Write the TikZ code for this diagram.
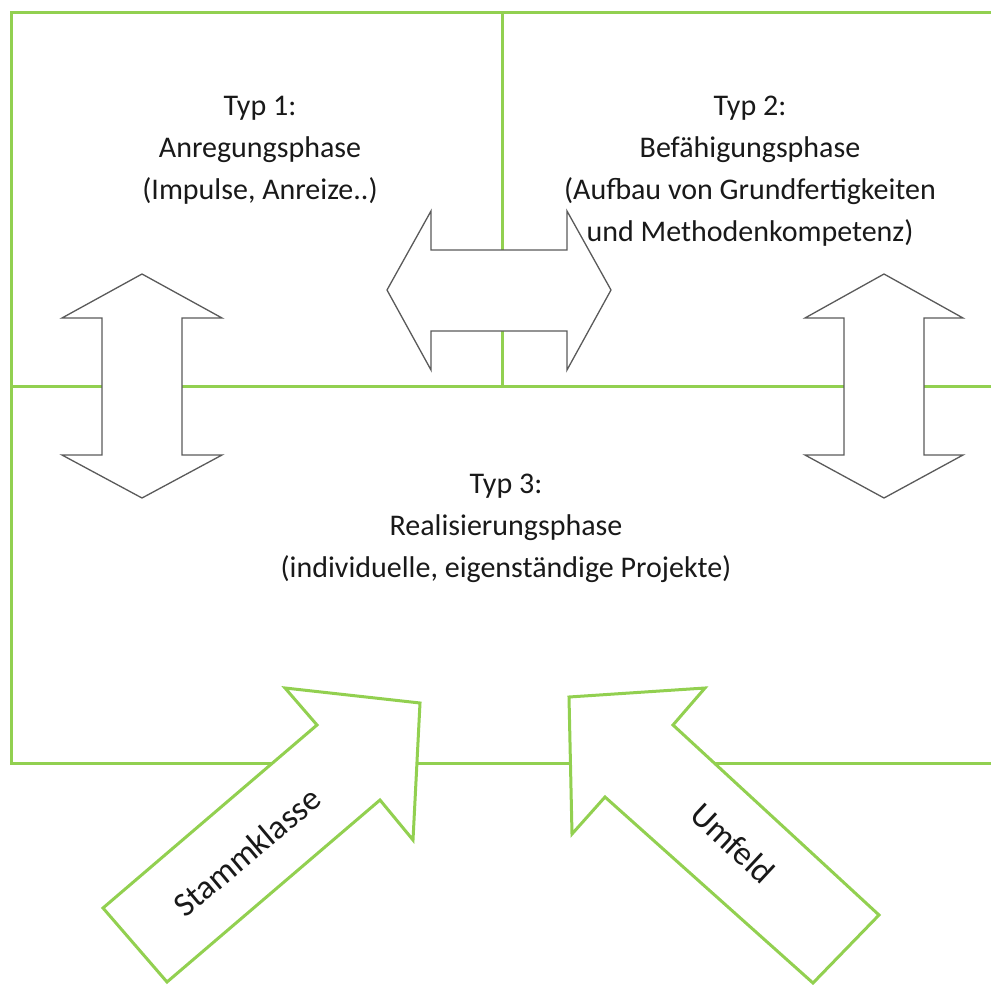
\documentclass[tikz,border=0pt]{standalone}
\usepackage{fontspec}
\setmainfont{Carlito}
\definecolor{phasegreen}{RGB}{146,208,80}
\definecolor{arrowgray}{RGB}{90,90,90}

\begin{document}
\begin{tikzpicture}[x=1pt,y=-1pt]
    \tikzset{
        frameline/.style={draw=phasegreen, line width=3pt},
        grayarrow/.style={draw=arrowgray, line width=1.3pt, fill=white, line join=miter},
        greenarrow/.style={draw=phasegreen, line width=3pt, fill=white, line join=miter},
        phasetext/.style={align=center, font=\fontsize{30}{42}\selectfont, text=black!90},
        arrowtext/.style={font=\fontsize{34}{40}\selectfont, text=black!90},
    }
    \useasboundingbox (0,0) rectangle (991,985);

    % Frame
    \draw[frameline] (991,12) -- (11,12) -- (11,763) -- (991,763);
    \draw[frameline] (11,386) -- (991,386);
    \draw[frameline] (502,12) -- (502,386);

    % Double arrows
    \draw[grayarrow] (142,274) -- (222,318) -- (182,318) -- (182,455) -- (222,455)
        -- (142,498) -- (62,455) -- (102,455) -- (102,318) -- (62,318) -- cycle;
    \draw[grayarrow] (884,274) -- (963,318) -- (924,318) -- (924,455) -- (963,455)
        -- (884,498) -- (805,455) -- (844,455) -- (844,318) -- (805,318) -- cycle;
    \draw[grayarrow] (387,290) -- (431,211) -- (431,250) -- (567,250) -- (567,211)
        -- (611,290) -- (567,370) -- (567,331) -- (431,331) -- (431,370) -- cycle;

    % Inputs
    \draw[greenarrow] (103,908) -- (317,725) -- (285,688) -- (420,703) -- (413,840)
        -- (380,800) -- (167,982) -- cycle;
    \draw[greenarrow] (879,915) -- (673,725) -- (705,688) -- (569,697) -- (572,834)
        -- (605,797) -- (813,983) -- cycle;

    % Labels
    \node[phasetext] (typ1) at (260,150) {Typ 1:\\Anregungsphase\\(Impulse, Anreize..)};
    \node[phasetext] (typ2) at (750,171) {Typ 2:\\Befähigungsphase\\(Aufbau von Grundfertigkeiten\\und Methodenkompetenz)};
    \node[phasetext] (typ3) at (506,528) {Typ 3:\\Realisierungsphase\\(individuelle, eigenständige Projekte)};
    \node[arrowtext, rotate=40] (stamm) at (247,852) {Stammklasse};
    \node[arrowtext, rotate=-43] (umfeld) at (733,843) {Umfeld};

\end{tikzpicture}
\end{document}
